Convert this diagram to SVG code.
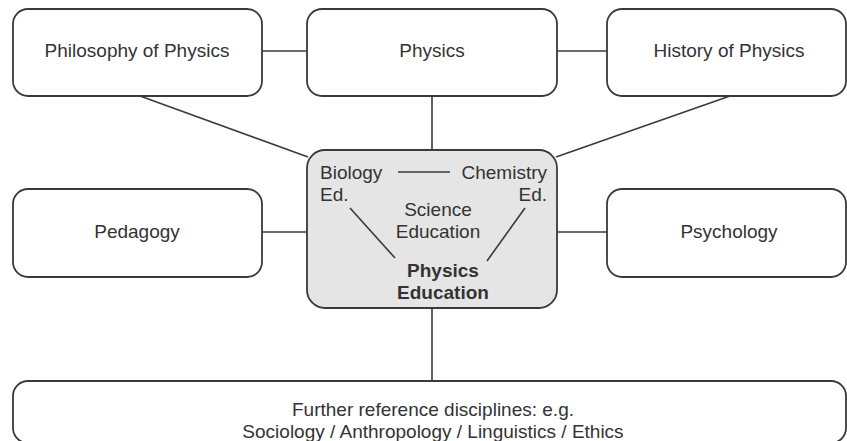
<svg xmlns="http://www.w3.org/2000/svg" width="847" height="441" viewBox="0 0 847 441">
  <style>
    .box { fill: #ffffff; stroke: #3a3a3a; stroke-width: 1.8; }
    .core { fill: #e5e5e5; stroke: #3a3a3a; stroke-width: 1.8; }
    .link { stroke: #3a3a3a; stroke-width: 1.6; fill: none; }
    text { font-family: "Liberation Sans", Arial, sans-serif; font-size: 19px; fill: #333333; }
    .mid { text-anchor: middle; }
    .end { text-anchor: end; }
    .bold { font-weight: bold; }
  </style>
  <rect width="847" height="441" fill="#ffffff"/>

  <!-- connectors -->
  <g id="connectors">
    <line class="link" x1="262" y1="51" x2="307" y2="51"/>
    <line class="link" x1="557" y1="51" x2="607" y2="51"/>
    <line class="link" x1="432" y1="96" x2="432" y2="150"/>
    <line class="link" x1="140" y1="96" x2="308" y2="157"/>
    <line class="link" x1="730" y1="96" x2="556" y2="157"/>
    <line class="link" x1="262" y1="232" x2="307" y2="232"/>
    <line class="link" x1="557" y1="232" x2="607" y2="232"/>
    <line class="link" x1="432" y1="308" x2="432" y2="381"/>
  </g>

  <g id="philosophy">
    <rect class="box" x="13" y="9" width="249" height="87" rx="15"/>
    <text class="mid" x="137" y="57">Philosophy of Physics</text>
  </g>
  <g id="physics">
    <rect class="box" x="307" y="9" width="250" height="87" rx="15"/>
    <text class="mid" x="432" y="57">Physics</text>
  </g>
  <g id="history">
    <rect class="box" x="607" y="9" width="239" height="87" rx="15"/>
    <text class="mid" x="729" y="57">History of Physics</text>
  </g>
  <g id="pedagogy">
    <rect class="box" x="13" y="189" width="249" height="88" rx="15"/>
    <text class="mid" x="137" y="238">Pedagogy</text>
  </g>
  <g id="psychology">
    <rect class="box" x="607" y="189" width="239" height="88" rx="15"/>
    <text class="mid" x="729" y="238">Psychology</text>
  </g>

  <g id="science-education">
    <rect class="core" x="307" y="150" width="250" height="158" rx="18"/>
    <text x="320" y="179">Biology</text>
    <text x="320" y="201">Ed.</text>
    <text class="end" x="547" y="179">Chemistry</text>
    <text class="end" x="547" y="201">Ed.</text>
    <line class="link" x1="398" y1="172" x2="450" y2="172"/>
    <text class="mid" x="438" y="216">Science</text>
    <text class="mid" x="438" y="238">Education</text>
    <line class="link" x1="350" y1="208" x2="395" y2="258"/>
    <line class="link" x1="525" y1="208" x2="487" y2="261"/>
    <text class="mid bold" x="443" y="277">Physics</text>
    <text class="mid bold" x="443" y="299">Education</text>
  </g>

  <g id="further-disciplines">
    <rect class="box" x="13" y="381" width="833" height="62" rx="15"/>
    <text class="mid" x="433" y="416">Further reference disciplines: e.g.</text>
    <text class="mid" x="433" y="438">Sociology / Anthropology / Linguistics / Ethics</text>
  </g>
</svg>
